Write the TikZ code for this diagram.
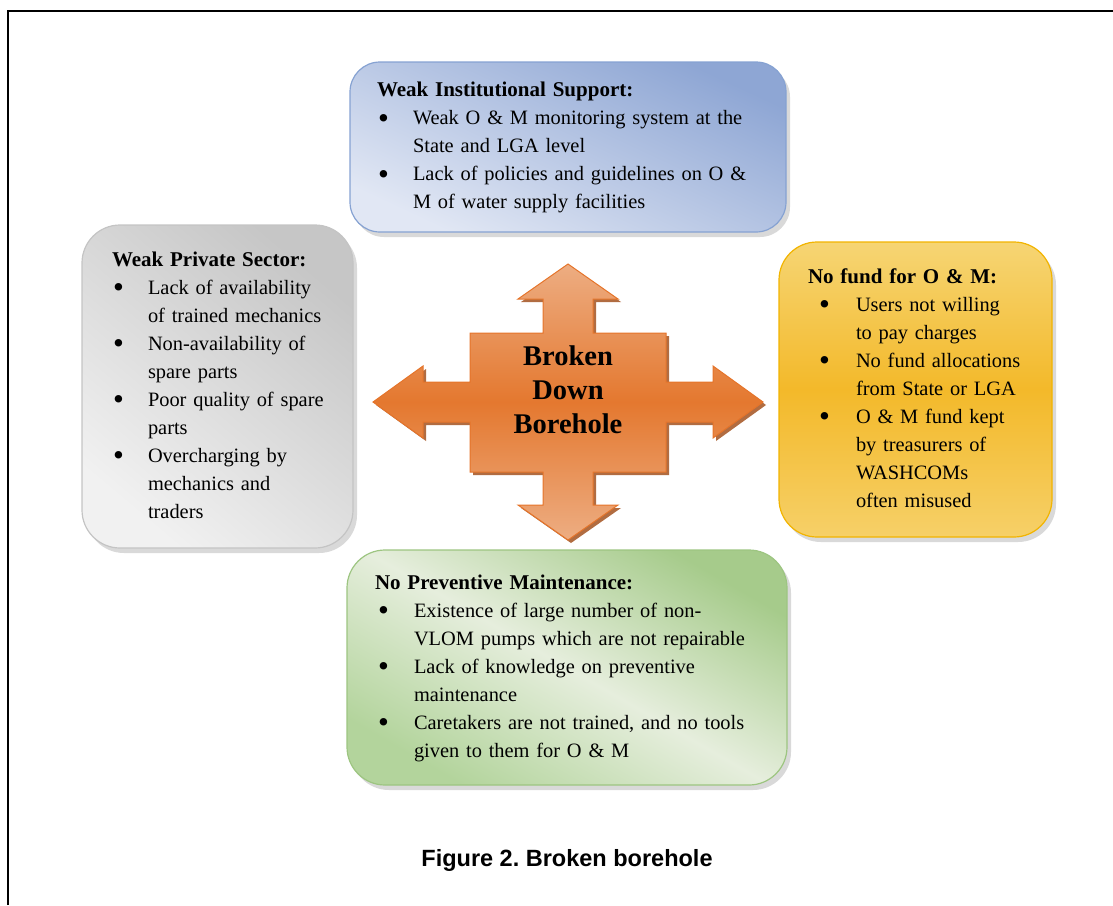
\documentclass[tikz,border=0pt]{standalone}
\usepackage{fontspec}
\setmainfont{Liberation Serif}
\newfontfamily\captionfont{Liberation Sans}
\usetikzlibrary{shadows}

\definecolor{instdark}{HTML}{8EA6D4}
\definecolor{instlight}{HTML}{E1E7F4}
\definecolor{instline}{HTML}{86A2D2}
\definecolor{privdark}{HTML}{C6C6C6}
\definecolor{privlight}{HTML}{F1F1F1}
\definecolor{privline}{HTML}{C4C4C4}
\definecolor{fundtop}{HTML}{F6D574}
\definecolor{fundmid}{HTML}{F3B92A}
\definecolor{fundbot}{HTML}{F6D068}
\definecolor{fundline}{HTML}{F2B400}
\definecolor{prevdark}{HTML}{A6CB8B}
\definecolor{prevlight}{HTML}{E6EEDD}
\definecolor{prevbot}{HTML}{B3D49C}
\definecolor{prevline}{HTML}{9DC581}
\definecolor{arrlight}{HTML}{EDAD82}
\definecolor{arrdark}{HTML}{E4782F}
\definecolor{arrline}{HTML}{E5742A}
\definecolor{arrshadow}{HTML}{A85C2C}

\newcommand{\blt}[2]{\hspace*{#1}\makebox[#2][l]{\raisebox{-3.5pt}{\fontsize{31}{28}\selectfont\textbullet}}}
\newcommand{\bcont}[1]{\hspace*{#1}}
\newcommand{\btitle}[1]{{\fontsize{21}{28}\selectfont\bfseries #1}}

\begin{document}
\begin{tikzpicture}[x=1pt, y=-1pt, every node/.style={font=\fontsize{20.4}{28}\selectfont},
  box/.style={draw, line width=1.2pt, rounded corners=38pt, align=left, inner ysep=0pt,
    drop shadow={shadow xshift=4pt, shadow yshift=-5pt, opacity=0.3}}]
\useasboundingbox (0,0) rectangle (1113,905);
\draw[line width=2.5pt] (8,905) -- (8,11) -- (1113,11);

\draw[draw=arrline, line width=1pt, top color=arrlight, bottom color=arrlight, middle color=arrdark,
  drop shadow={shadow xshift=3pt, shadow yshift=-3pt, fill=arrshadow, opacity=0.9}]
  (568,264) -- (618,299) -- (593,299) -- (593,333) -- (666,333) -- (666,382) -- (713,382) -- (713,366)
  -- (763,402) -- (713,438) -- (713,422) -- (666,422) -- (666,472) -- (593,472) -- (593,505) -- (618,505)
  -- (568,540) -- (518,505) -- (543,505) -- (543,472) -- (470,472) -- (470,422) -- (423,422) -- (423,438)
  -- (373,402) -- (423,366) -- (423,382) -- (470,382) -- (470,333) -- (543,333) -- (543,299) -- (518,299) -- cycle;
\node[font=\fontsize{28.5}{34}\selectfont\bfseries, align=center] (centre) at (568,390) {Broken\\Down\\Borehole};

\node[box, draw=instline, top color=instdark, bottom color=instlight, shading angle=-25, rounded corners=30pt,
  text width=382pt, minimum width=436pt, minimum height=170pt, inner xsep=27pt] (inst) at (568,147)
  {\begin{tabular}{@{}l@{}}
  \btitle{Weak Institutional Support:}\\
  \blt{1pt}{35pt}Weak O \& M monitoring system at the\\
  \bcont{36pt}State and LGA level\\
  \blt{1pt}{35pt}Lack of policies and guidelines on O \&\\
  \bcont{36pt}M of water supply facilities
  \end{tabular}};

\node[box, draw=privline, top color=privdark, bottom color=privlight, shading angle=-40,
  text width=211pt, minimum width=271pt, minimum height=323pt, inner xsep=30pt] (priv) at (217.5,386.5)
  {\begin{tabular}{@{}l@{}}
  \btitle{Weak Private Sector:}\\
  \blt{1pt}{35pt}Lack of availability\\
  \bcont{36pt}of trained mechanics\\
  \blt{1pt}{35pt}Non-availability of\\
  \bcont{36pt}spare parts\\
  \blt{1pt}{35pt}Poor quality of spare\\
  \bcont{36pt}parts\\
  \blt{1pt}{35pt}Overcharging by\\
  \bcont{36pt}mechanics and\\
  \bcont{36pt}traders
  \end{tabular}};

\node[box, draw=fundline, top color=fundtop, bottom color=fundbot, middle color=fundmid,
  text width=215pt, minimum width=273pt, minimum height=295pt, inner xsep=29pt] (fund) at (915.5,389.5)
  {\begin{tabular}{@{}l@{}}
  \btitle{No fund for O \& M:}\\
  \blt{11pt}{37pt}Users not willing\\
  \bcont{48pt}to pay charges\\
  \blt{11pt}{37pt}No fund allocations\\
  \bcont{48pt}from State or LGA\\
  \blt{11pt}{37pt}O \& M fund kept\\
  \bcont{48pt}by treasurers of\\
  \bcont{48pt}WASHCOMs\\
  \bcont{48pt}often misused
  \end{tabular}};

\node[box, draw=prevline, top color=prevdark, bottom color=prevbot, middle color=prevlight, shading angle=-30,
  text width=384pt, minimum width=440pt, minimum height=235pt, inner xsep=28pt] (prev) at (567,667.5)
  {\begin{tabular}{@{}l@{}}
  \btitle{No Preventive Maintenance:}\\
  \blt{3pt}{36pt}Existence of large number of non-\\
  \bcont{39pt}VLOM pumps which are not repairable\\
  \blt{3pt}{36pt}Lack of knowledge on preventive\\
  \bcont{39pt}maintenance\\
  \blt{3pt}{36pt}Caretakers are not trained, and no tools\\
  \bcont{39pt}given to them for O \& M
  \end{tabular}};

\node[font=\captionfont\bfseries\fontsize{23.5}{27}\selectfont] (caption) at (567,860) {Figure 2.\ Broken borehole};
\end{tikzpicture}
\end{document}
